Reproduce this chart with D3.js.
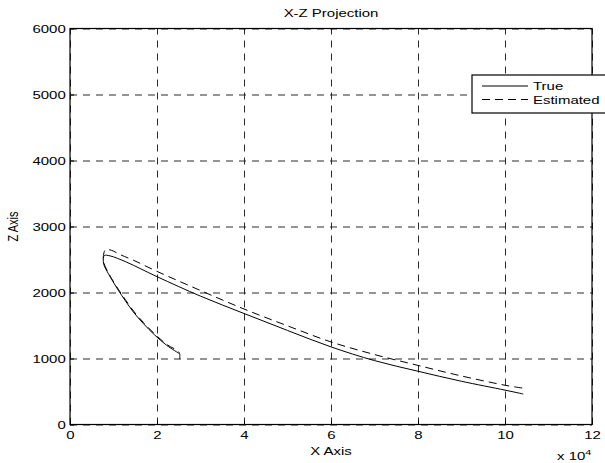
<!DOCTYPE html>
<html lang="en">
<head>
    <meta charset="UTF-8">
    <title>X-Z Projection</title>
    <style>
        body { margin: 0; background: #fff; }
        svg { display: block; }
        text { font-family: "Liberation Sans", Arial, Helvetica, sans-serif; fill: #000; }
    </style>
</head>
<body>
    <div id="graphArea"></div>
    <script src="https://d3js.org/d3.v7.min.js"></script>
    <script>
        // values, x in units of 10^4
        const xTicks = [0, 2, 4, 6, 8, 10, 12];
        const zTicks = [0, 1000, 2000, 3000, 4000, 5000, 6000];

        const xTrue = [2.51, 2.22, 1.95, 1.685, 1.455, 1.264, 1.11, 0.88, 0.78, 0.765, 0.79, 0.92, 1.30, 2.0, 3.0, 4.0, 5.0, 6.0, 7.0, 8.0, 9.0, 10.0, 10.42];
        const zTrue = [1076, 1201, 1354, 1530, 1706, 1883, 2035, 2288, 2420, 2510, 2560, 2555, 2460, 2240, 1945, 1682, 1425, 1176, 968, 807, 655, 521, 462];

        const xEst = [2.52, 2.51, 2.22, 1.95, 1.69, 1.46, 1.27, 1.11, 0.88, 0.77, 0.78, 0.82, 0.95, 1.15, 1.455, 2.0, 3.0, 4.0, 5.0, 6.0, 7.0, 8.0, 9.0, 10.0, 10.45];
        const zEst = [990, 1090, 1215, 1370, 1545, 1720, 1895, 2050, 2300, 2470, 2600, 2650, 2640, 2575, 2490, 2320, 2030, 1750, 1495, 1251, 1060, 895, 735, 595, 547];

        const seriesNames = ["True", "Estimated"];

        const W = 605, H = 463;
        const margin = { top: 28.5, right: 13, bottom: 38.5, left: 70 };
        const width = W - margin.left - margin.right;
        const height = H - margin.top - margin.bottom;
        const SX = 1.36; // the glyphs in the picture are stretched sideways

        const svg = d3.select("#graphArea")
            .append("svg")
            .attr("width", W)
            .attr("height", H);

        const g = svg.append("g")
            .attr("transform", `translate(${margin.left}, ${margin.top})`);

        const x = d3.scaleLinear().domain([0, 12]).range([0, width]);
        const y = d3.scaleLinear().domain([0, 6000]).range([height, 0]);

        // dashed grid
        g.append("g")
            .attr("transform", `translate(0, ${height})`)
            .call(d3.axisBottom(x).tickValues(xTicks).tickSize(-height).tickFormat(""))
            .call(a => a.select(".domain").remove())
            .selectAll("line")
            .attr("stroke", "#2a2a2a")
            .attr("stroke-dasharray", "7,6");

        g.append("g")
            .call(d3.axisLeft(y).tickValues(zTicks).tickSize(-width).tickFormat(""))
            .call(a => a.select(".domain").remove())
            .selectAll("line")
            .attr("stroke", "#2a2a2a")
            .attr("stroke-dasharray", "7,6");

        // axes with labels, ticks inward
        const xAxis = g.append("g")
            .attr("transform", `translate(0, ${height})`)
            .call(d3.axisBottom(x).tickValues(xTicks).tickSize(-4).tickFormat(d3.format("d")));
        xAxis.select(".domain").remove();
        xAxis.selectAll("line").attr("stroke", "#000");
        xAxis.selectAll("text")
            .attr("y", 15)
            .attr("dy", null)
            .attr("transform", `scale(${SX},1)`)
            .style("font-size", "11px");

        const yAxis = g.append("g")
            .call(d3.axisLeft(y).tickValues(zTicks).tickSize(-4).tickFormat(d3.format("d")));
        yAxis.select(".domain").remove();
        yAxis.selectAll("line").attr("stroke", "#000");
        yAxis.selectAll("text")
            .attr("x", -4.3 / SX)
            .attr("dy", "0.36em")
            .attr("transform", `scale(${SX},1)`)
            .style("font-size", "11px");

        // box
        g.append("rect")
            .attr("width", width)
            .attr("height", height)
            .attr("fill", "none")
            .attr("stroke", "#000")
            .attr("stroke-width", 1.2);

        const line = d3.line()
            .curve(d3.curveCatmullRom.alpha(0.5))
            .x(d => x(d[0]))
            .y(d => y(d[1]));

        g.append("path")
            .datum(d3.zip(xTrue, zTrue))
            .attr("fill", "none")
            .attr("stroke", "#000")
            .attr("stroke-width", 1)
            .attr("d", line);

        g.append("path")
            .datum(d3.zip(xEst, zEst))
            .attr("fill", "none")
            .attr("stroke", "#000")
            .attr("stroke-width", 1)
            .attr("stroke-dasharray", "8,5")
            .attr("d", line);

        const label = (txt, px, py, anchor, size, extra) => svg.append("text")
            .attr("transform", `translate(${px}, ${py}) scale(${SX},1)${extra || ""}`)
            .attr("text-anchor", anchor)
            .style("font-size", size)
            .text(txt);

        label("X-Z Projection", margin.left + width / 2, 16.5, "middle", "11px");
        label("X Axis", margin.left + width / 2, 455, "middle", "11px");
        label("Z Axis", 18, margin.top + height / 2, "middle", "11px", " rotate(-90)");

        // x 10^4 exponent
        const expo = svg.append("text")
            .attr("transform", `translate(557, 460) scale(${SX},1)`)
            .style("font-size", "11px");
        expo.append("tspan").text("x 10");
        expo.append("tspan").attr("dy", -5).style("font-size", "8px").text("4");

        // legend
        const leg = svg.append("g").attr("transform", "translate(472, 75)");
        leg.append("rect")
            .attr("width", 150)
            .attr("height", 38)
            .attr("fill", "#fff")
            .attr("stroke", "#000")
            .attr("stroke-width", 1.2);

        seriesNames.forEach((name, i) => {
            const ly = 11 + i * 13.5;
            leg.append("line")
                .attr("x1", 10).attr("x2", 56)
                .attr("y1", ly).attr("y2", ly)
                .attr("stroke", "#000")
                .attr("stroke-dasharray", i === 1 ? "8,5" : null);
            leg.append("text")
                .attr("transform", `translate(61, ${ly + 4}) scale(${SX},1)`)
                .style("font-size", "11px")
                .text(name);
        });
    </script>
</body>
</html>
